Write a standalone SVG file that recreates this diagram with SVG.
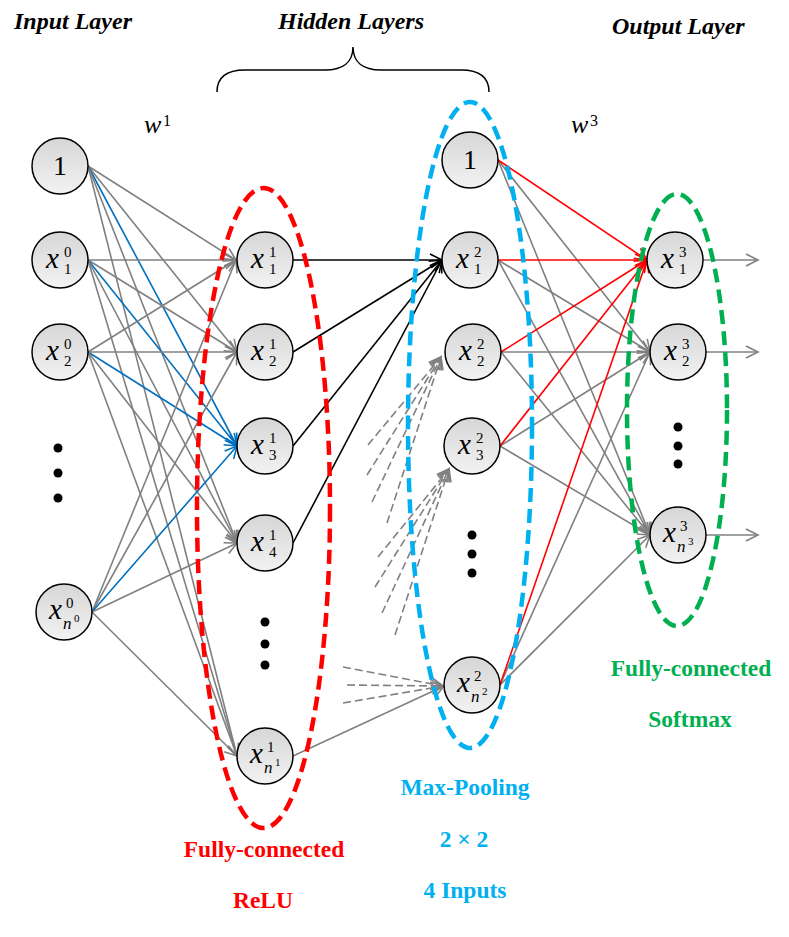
<svg xmlns="http://www.w3.org/2000/svg" width="789" height="937" viewBox="0 0 789 937">
<style>
.title{font-family:"Liberation Serif",serif;font-weight:bold;font-style:italic;font-size:24px;fill:#000}
.lbl{font-family:"Liberation Serif",serif;font-weight:bold;font-size:23.5px;text-anchor:middle}
.w{font-family:"Liberation Serif",serif;font-style:italic;font-size:26px;fill:#000}
.wsup{font-family:"Liberation Serif",serif;font-size:16px;fill:#000}
.node circle{fill:url(#ng);stroke:#000;stroke-width:1.5}
.mx{font-family:"Liberation Serif",serif;font-style:italic;font-size:29px;fill:#000}
.md{font-family:"Liberation Serif",serif;font-size:15px;fill:#000}
.mn{font-family:"Liberation Serif",serif;font-style:italic;font-size:17px;fill:#000}
.tiny{font-family:"Liberation Serif",serif;font-size:11px;fill:#000}
.one{font-family:"Liberation Serif",serif;font-size:28px;fill:#000;text-anchor:middle}
.g{stroke:#808080;stroke-width:1.6;fill:none;marker-end:url(#ag)}
.gd{stroke:#808080;stroke-width:1.6;fill:none;stroke-dasharray:8 4;marker-end:url(#ag)}
.b{stroke:#0070C0;stroke-width:1.6;fill:none;marker-end:url(#ab)}
.k{stroke:#000;stroke-width:1.6;fill:none;marker-end:url(#ak)}
.r{stroke:#FF0000;stroke-width:1.6;fill:none;marker-end:url(#ar)}
.ell{fill:none;stroke-width:4.5;stroke-dasharray:14 7}
.dot{fill:#000}
</style>
<defs>
<linearGradient id="ng" x1="0" y1="0" x2="0" y2="1">
<stop offset="0" stop-color="#d6d6d6"/>
<stop offset="1" stop-color="#f2f2f2"/>
</linearGradient>
<marker id="ag" markerUnits="userSpaceOnUse" markerWidth="16" markerHeight="16" refX="13" refY="8" orient="auto"><path d="M1,2 L13,8 L1,14" fill="none" stroke="#808080" stroke-width="1.6"/></marker>
<marker id="ab" markerUnits="userSpaceOnUse" markerWidth="16" markerHeight="16" refX="13" refY="8" orient="auto"><path d="M1,2 L13,8 L1,14" fill="none" stroke="#0070C0" stroke-width="1.6"/></marker>
<marker id="ak" markerUnits="userSpaceOnUse" markerWidth="16" markerHeight="16" refX="13" refY="8" orient="auto"><path d="M1,2 L13,8 L1,14" fill="none" stroke="#000" stroke-width="1.6"/></marker>
<marker id="ar" markerUnits="userSpaceOnUse" markerWidth="16" markerHeight="16" refX="13" refY="8" orient="auto"><path d="M1,2 L13,8 L1,14" fill="none" stroke="#FF0000" stroke-width="1.6"/></marker>
</defs>
<rect width="789" height="937" fill="#fff"/>

<g id="titles">
<text class="title" x="14" y="29">Input Layer</text>
<text class="title" x="278" y="29">Hidden Layers</text>
<text class="title" x="612" y="34">Output Layer</text>
<path d="M217,92 C217,78 225,70 245,70 L325,70 C343,70 353,62 353,47 C353,62 363,70 381,70 L461,70 C481,70 489,78 489,92" fill="none" stroke="#000" stroke-width="1.5"/>
<text class="w" x="144" y="133">w</text><text class="wsup" x="163" y="126">1</text>
<text class="w" x="571" y="133">w</text><text class="wsup" x="590" y="126">3</text>
</g>

<g id="connectors">
<line class="g" x1="88" y1="166" x2="236" y2="260"/>
<line class="g" x1="88" y1="166" x2="237" y2="352"/>
<line class="b" x1="88" y1="166" x2="237" y2="446"/>
<line class="g" x1="88" y1="166" x2="237" y2="543"/>
<line class="g" x1="88" y1="166" x2="237" y2="756"/>
<line class="g" x1="88" y1="260" x2="236" y2="260"/>
<line class="g" x1="88" y1="260" x2="237" y2="352"/>
<line class="b" x1="88" y1="260" x2="237" y2="446"/>
<line class="g" x1="88" y1="260" x2="237" y2="543"/>
<line class="g" x1="88" y1="260" x2="237" y2="756"/>
<line class="g" x1="88" y1="352" x2="236" y2="260"/>
<line class="g" x1="88" y1="352" x2="237" y2="352"/>
<line class="b" x1="88" y1="352" x2="237" y2="446"/>
<line class="g" x1="88" y1="352" x2="237" y2="543"/>
<line class="g" x1="88" y1="352" x2="237" y2="756"/>
<line class="g" x1="92" y1="612" x2="236" y2="260"/>
<line class="g" x1="92" y1="612" x2="237" y2="352"/>
<line class="b" x1="92" y1="612" x2="237" y2="446"/>
<line class="g" x1="92" y1="612" x2="237" y2="543"/>
<line class="g" x1="92" y1="612" x2="237" y2="756"/>
<line class="k" x1="293" y1="260" x2="442" y2="260"/>
<line class="k" x1="293" y1="352" x2="442" y2="260"/>
<line class="k" x1="293" y1="446" x2="442" y2="260"/>
<line class="k" x1="293" y1="543" x2="442" y2="260"/>
<line class="g" x1="293" y1="756" x2="444" y2="686"/>
<line class="gd" x1="368" y1="445" x2="441" y2="357"/>
<line class="gd" x1="367" y1="475" x2="441" y2="357"/>
<line class="gd" x1="372" y1="502" x2="441" y2="357"/>
<line class="gd" x1="387" y1="523" x2="441" y2="357"/>
<line class="gd" x1="378" y1="557" x2="449" y2="469"/>
<line class="gd" x1="375" y1="587" x2="449" y2="469"/>
<line class="gd" x1="382" y1="613" x2="449" y2="469"/>
<line class="gd" x1="395" y1="635" x2="449" y2="469"/>
<line class="gd" x1="343" y1="667" x2="443" y2="686"/>
<line class="gd" x1="347" y1="685" x2="443" y2="686"/>
<line class="gd" x1="343" y1="703" x2="443" y2="686"/>
<line class="g" x1="498" y1="160" x2="650" y2="352"/>
<line class="g" x1="498" y1="160" x2="650" y2="535"/>
<line class="g" x1="498" y1="260" x2="650" y2="352"/>
<line class="g" x1="498" y1="260" x2="650" y2="535"/>
<line class="g" x1="501" y1="352" x2="650" y2="352"/>
<line class="g" x1="501" y1="352" x2="650" y2="535"/>
<line class="g" x1="500" y1="446" x2="650" y2="352"/>
<line class="g" x1="500" y1="446" x2="650" y2="535"/>
<line class="g" x1="500" y1="685" x2="650" y2="352"/>
<line class="g" x1="500" y1="685" x2="650" y2="535"/>
<line class="r" x1="498" y1="160" x2="647" y2="260"/>
<line class="r" x1="498" y1="260" x2="647" y2="260"/>
<line class="r" x1="501" y1="352" x2="647" y2="260"/>
<line class="r" x1="500" y1="446" x2="647" y2="260"/>
<line class="r" x1="500" y1="685" x2="647" y2="260"/>
<line class="g" x1="703" y1="260" x2="758" y2="260"/>
<line class="g" x1="706" y1="352" x2="758" y2="352"/>
<line class="g" x1="706" y1="535" x2="758" y2="535"/>
</g>

<g id="groups">
<ellipse class="ell" cx="263.5" cy="508" rx="66.5" ry="320" stroke="#FF0000"/>
<ellipse class="ell" cx="470" cy="425" rx="62" ry="323" stroke="#00B0F0"/>
<ellipse class="ell" cx="677" cy="410" rx="50" ry="216" stroke="#00B050"/>
</g>

<g id="in-1" class="node"><circle cx="60" cy="166" r="28"/><text class="one" x="60" y="175">1</text></g>
<g id="in-x1" class="node"><circle cx="60" cy="260" r="28"/><text class="mx" x="46" y="268">x</text><text class="md" x="64" y="257">0</text><text class="md" x="64" y="274">1</text></g>
<g id="in-x2" class="node"><circle cx="60" cy="352" r="28"/><text class="mx" x="46" y="360">x</text><text class="md" x="64" y="349">0</text><text class="md" x="64" y="366">2</text></g>
<g id="in-dots"><circle class="dot" cx="58" cy="448" r="4.5"/><circle class="dot" cx="58" cy="473" r="4.5"/><circle class="dot" cx="58" cy="498" r="4.5"/></g>
<g id="in-xn" class="node"><circle cx="64" cy="612" r="28"/><text class="mx" x="49" y="619">x</text><text class="md" x="66" y="608">0</text><text class="mn" x="63" y="629">n</text><text class="tiny" x="74" y="622">0</text></g>

<g id="h1-x1" class="node"><circle cx="265" cy="260" r="28"/><text class="mx" x="251" y="268">x</text><text class="md" x="269" y="257">1</text><text class="md" x="269" y="274">1</text></g>
<g id="h1-x2" class="node"><circle cx="265" cy="352" r="28"/><text class="mx" x="251" y="360">x</text><text class="md" x="269" y="349">1</text><text class="md" x="269" y="366">2</text></g>
<g id="h1-x3" class="node"><circle cx="265" cy="446" r="28"/><text class="mx" x="251" y="454">x</text><text class="md" x="269" y="443">1</text><text class="md" x="269" y="460">3</text></g>
<g id="h1-x4" class="node"><circle cx="265" cy="543" r="28"/><text class="mx" x="251" y="551">x</text><text class="md" x="269" y="540">1</text><text class="md" x="269" y="557">4</text></g>
<g id="h1-dots"><circle class="dot" cx="265" cy="622" r="4.5"/><circle class="dot" cx="265" cy="644" r="4.5"/><circle class="dot" cx="265" cy="665" r="4.5"/></g>
<g id="h1-xn" class="node"><circle cx="265" cy="756" r="28"/><text class="mx" x="250" y="763">x</text><text class="md" x="267" y="752">1</text><text class="mn" x="264" y="773">n</text><text class="tiny" x="275" y="766">1</text></g>

<g id="h2-1" class="node"><circle cx="470" cy="160" r="28"/><text class="one" x="470" y="169">1</text></g>
<g id="h2-x1" class="node"><circle cx="470" cy="260" r="28"/><text class="mx" x="456" y="268">x</text><text class="md" x="474" y="257">2</text><text class="md" x="474" y="274">1</text></g>
<g id="h2-x2" class="node"><circle cx="473" cy="352" r="28"/><text class="mx" x="459" y="360">x</text><text class="md" x="477" y="349">2</text><text class="md" x="477" y="366">2</text></g>
<g id="h2-x3" class="node"><circle cx="472" cy="446" r="28"/><text class="mx" x="458" y="454">x</text><text class="md" x="476" y="443">2</text><text class="md" x="476" y="460">3</text></g>
<g id="h2-dots"><circle class="dot" cx="472" cy="535" r="4.5"/><circle class="dot" cx="472" cy="554" r="4.5"/><circle class="dot" cx="472" cy="573" r="4.5"/></g>
<g id="h2-xn" class="node"><circle cx="472" cy="685" r="28"/><text class="mx" x="457" y="692">x</text><text class="md" x="474" y="681">2</text><text class="mn" x="471" y="702">n</text><text class="tiny" x="482" y="695">2</text></g>

<g id="out-x1" class="node"><circle cx="675" cy="260" r="28"/><text class="mx" x="661" y="268">x</text><text class="md" x="679" y="257">3</text><text class="md" x="679" y="274">1</text></g>
<g id="out-x2" class="node"><circle cx="678" cy="352" r="28"/><text class="mx" x="664" y="360">x</text><text class="md" x="682" y="349">3</text><text class="md" x="682" y="366">2</text></g>
<g id="out-dots"><circle class="dot" cx="678" cy="427" r="4.5"/><circle class="dot" cx="678" cy="446" r="4.5"/><circle class="dot" cx="678" cy="464" r="4.5"/></g>
<g id="out-xn" class="node"><circle cx="678" cy="535" r="28"/><text class="mx" x="663" y="542">x</text><text class="md" x="680" y="531">3</text><text class="mn" x="677" y="552">n</text><text class="tiny" x="688" y="545">3</text></g>

<g id="labels">
<text class="lbl" x="264" y="857" fill="#FF0000">Fully-connected</text>
<text class="lbl" x="263" y="908" fill="#FF0000">ReLU</text>
<text class="lbl" x="465" y="795" fill="#00B0F0">Max-Pooling</text>
<text class="lbl" x="464" y="847" fill="#00B0F0">2 × 2</text>
<text class="lbl" x="465" y="898" fill="#00B0F0">4 Inputs</text>
<text class="lbl" x="691" y="676" fill="#00B050">Fully-connected</text>
<text class="lbl" x="690" y="727" fill="#00B050">Softmax</text>
</g>
</svg>
